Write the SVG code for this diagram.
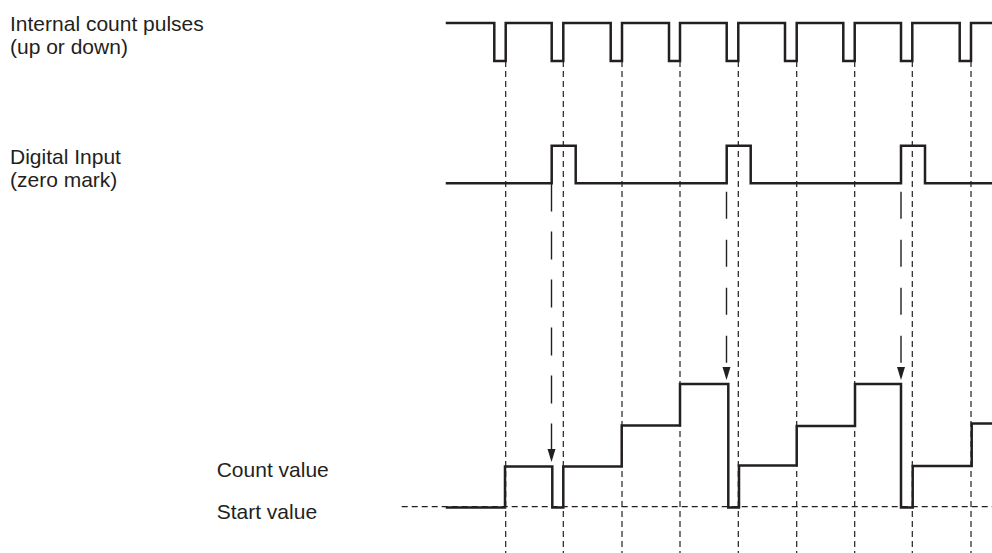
<svg xmlns="http://www.w3.org/2000/svg" width="992" height="553" viewBox="0 0 992 553">
<style>
.lbl{font-family:"Liberation Sans",Arial,sans-serif;font-size:21px;fill:#231f20}
.sig{fill:none;stroke:#231f20;stroke-width:2.5;stroke-linejoin:miter;stroke-linecap:square}
.grid{fill:none;stroke:#231f20;stroke-width:1.2;stroke-dasharray:6 4}
.arr{fill:none;stroke:#231f20;stroke-width:1.4;stroke-dasharray:28 20}
</style>
<defs>
<marker id="ah" viewBox="0 0 8 14" refX="4" refY="13" markerWidth="8" markerHeight="14" markerUnits="userSpaceOnUse" orient="auto-start-reverse">
<path d="M0,0 L8,0 L4,14 Z" fill="#231f20"/>
</marker>
</defs>
<rect width="992" height="553" fill="#ffffff"/>
<g id="labels">
<text class="lbl" x="10" y="31">Internal count pulses</text>
<text class="lbl" x="10" y="54">(up or down)</text>
<text class="lbl" x="10" y="163.5">Digital Input</text>
<text class="lbl" x="10" y="186.5">(zero mark)</text>
<text class="lbl" x="216.7" y="476.7">Count value</text>
<text class="lbl" x="216.7" y="519">Start value</text>
</g>
<g id="connectors">
<line class="grid" x1="401.7" y1="506.7" x2="992" y2="506.7"/>
<line class="grid" x1="505.7" y1="61" x2="505.7" y2="553"/>
<line class="grid" x1="563.3" y1="61" x2="563.3" y2="553"/>
<line class="grid" x1="622" y1="61" x2="622" y2="553"/>
<line class="grid" x1="680" y1="61" x2="680" y2="553"/>
<line class="grid" x1="738.3" y1="61" x2="738.3" y2="553"/>
<line class="grid" x1="796.7" y1="61" x2="796.7" y2="553"/>
<line class="grid" x1="854.7" y1="61" x2="854.7" y2="553"/>
<line class="grid" x1="912.3" y1="61" x2="912.3" y2="553"/>
<line class="grid" x1="971" y1="61" x2="971" y2="553"/>
<line class="arr" x1="551.5" y1="183.5" x2="551.5" y2="449"/>
<path d="M547.5,449 L555.5,449 L551.5,462 Z" fill="#231f20"/>
<line class="arr" x1="726.5" y1="191.7" x2="726.5" y2="367" style="stroke-dasharray:27 21"/>
<path d="M722.5,367 L730.5,367 L726.5,380 Z" fill="#231f20"/>
<line class="arr" x1="901" y1="191.7" x2="901" y2="367" style="stroke-dasharray:27 21"/>
<path d="M897,367 L905,367 L901,380 Z" fill="#231f20"/>
</g>
<g id="count-pulses">
<path class="sig" d="M447,23 H494.3 V61 H505.7 V23 H551.7 V61 H563.3 V23 H610.7 V61 H622 V23 H669 V61 H680 V23 H726.7 V61 H738.3 V23 H785 V61 H796.7 V23 H843.3 V61 H854.7 V23 H901 V61 H912.3 V23 H959.7 V61 H971 V23 H992"/>
</g>
<g id="digital-input">
<path class="sig" d="M447,183.3 H551.7 V145.7 H575.7 V183.3 H726.7 V145.7 H750.7 V183.3 H901 V145.7 H925 V183.3 H992"/>
</g>
<g id="count-value">
<path class="sig" d="M447,507.5 H505 V466.5 H552.3 V507.5 H563.3 V466.5 H621.7 V425.5 H680 V384 H728.3 V507.5 H739 V465.5 H796.7 V426 H855 V384 H901 V507.5 H912.7 V466 H971.7 V423.5 H992"/>
</g>
</svg>
